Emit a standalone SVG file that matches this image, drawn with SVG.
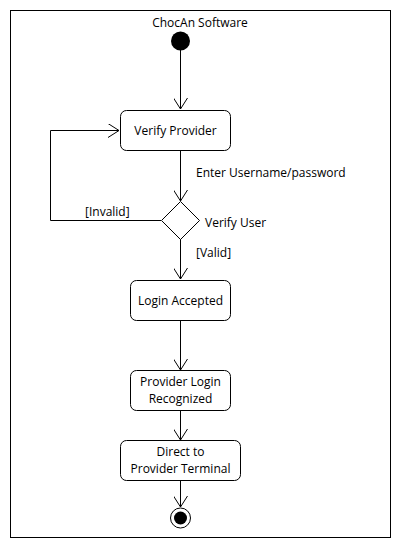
<svg xmlns="http://www.w3.org/2000/svg" width="400" height="550" viewBox="0 0 400 550">
<style>
text{font-family:"Open Sans","Noto Sans","DejaVu Sans",sans-serif;font-size:12px;fill:#000}
.c{text-anchor:middle}
.box{fill:#fff;stroke:#000;stroke-width:1}
.ln{fill:none;stroke:#000;stroke-width:1}
</style>
<defs>
<marker id="arr" viewBox="0 0 12 14" refX="11" refY="7" markerWidth="12" markerHeight="14" markerUnits="userSpaceOnUse" orient="auto">
<path d="M0,0 L11,7 L0,14" fill="none" stroke="#000" stroke-width="1"/>
</marker>
</defs>
<rect x="10.5" y="10.5" width="380" height="527" fill="#fff" stroke="#000" stroke-width="1"/>
<text class="c" x="200" y="27">ChocAn Software</text>
<g id="connectors">
<line class="ln" x1="180.5" y1="50" x2="180.5" y2="109" marker-end="url(#arr)"/>
<line class="ln" x1="180.5" y1="151" x2="180.5" y2="201" marker-end="url(#arr)"/>
<polyline class="ln" points="161,220.5 50.5,220.5 50.5,130.5 119,130.5" marker-end="url(#arr)"/>
<line class="ln" x1="180.5" y1="239" x2="180.5" y2="279" marker-end="url(#arr)"/>
<line class="ln" x1="180.5" y1="320" x2="180.5" y2="370" marker-end="url(#arr)"/>
<line class="ln" x1="180.5" y1="410" x2="180.5" y2="440" marker-end="url(#arr)"/>
<line class="ln" x1="180.5" y1="480" x2="180.5" y2="507" marker-end="url(#arr)"/>
<text x="196" y="177">Enter Username/password</text>
<text x="85" y="216">[Invalid]</text>
<text x="196" y="257">[Valid]</text>
</g>
<g id="start"><circle cx="180.5" cy="41" r="9.5" fill="#000"/></g>
<g id="verify-provider"><rect class="box" x="120.5" y="110.5" width="110" height="40" rx="6"/><text class="c" x="175.5" y="135">Verify Provider</text></g>
<g id="verify-user"><polygon class="box" points="180.5,201.5 199.5,220.5 180.5,239.5 161.5,220.5"/><text x="205" y="227">Verify User</text></g>
<g id="login-accepted"><rect class="box" x="130.5" y="280.5" width="100" height="40" rx="6"/><text class="c" x="180.5" y="305">Login Accepted</text></g>
<g id="provider-login"><rect class="box" x="130.5" y="370.5" width="100" height="40" rx="6"/><text class="c" x="180.5" y="386">Provider Login</text><text class="c" x="180.5" y="402.5">Recognized</text></g>
<g id="direct"><rect class="box" x="120.5" y="440.5" width="120" height="40" rx="6"/><text class="c" x="180.5" y="456">Direct to</text><text class="c" x="180.5" y="472.5">Provider Terminal</text></g>
<g id="end"><circle cx="180.5" cy="518" r="10" fill="#fff" stroke="#000" stroke-width="1"/><circle cx="180.5" cy="518" r="6.5" fill="#000"/></g>
</svg>
